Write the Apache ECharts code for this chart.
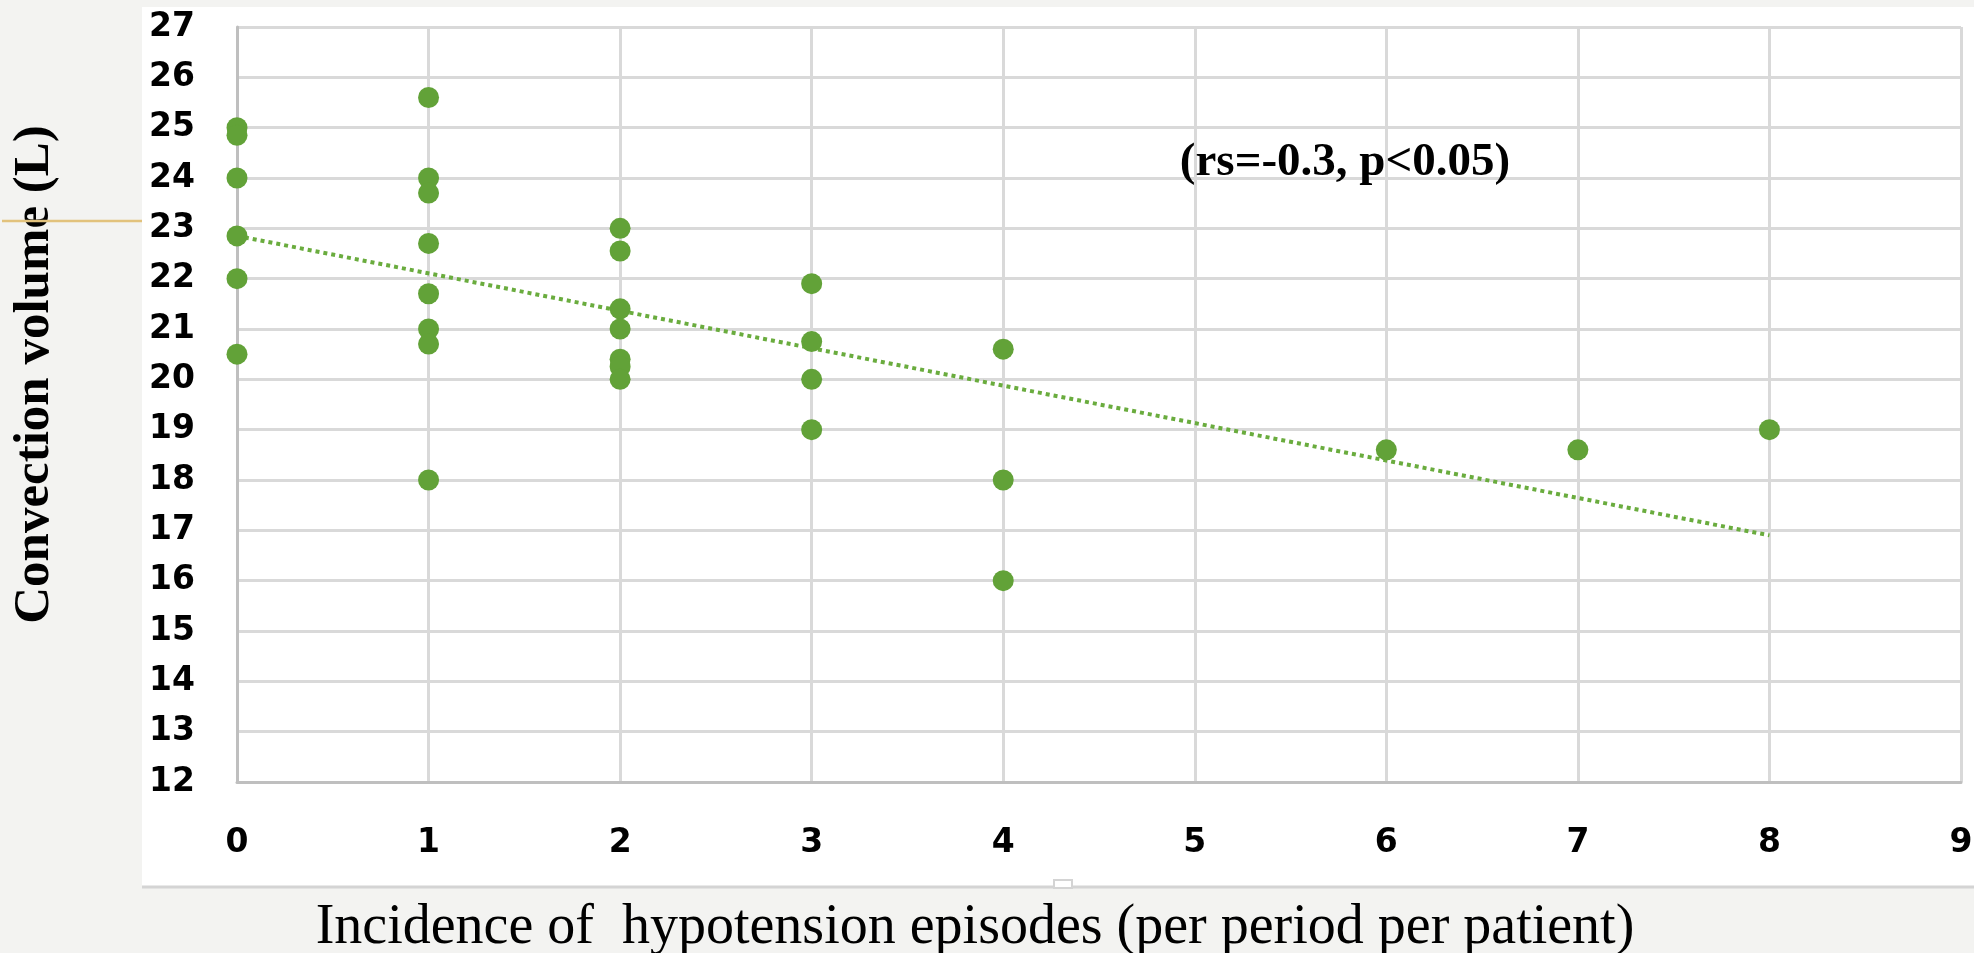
<!DOCTYPE html>
<html>
<head>
<meta charset="utf-8">
<script src="https://cdn.jsdelivr.net/npm/echarts@6/dist/echarts.min.js"></script>
<style>
  html, body { margin: 0; padding: 0; background: #f3f3f1; }
  #chart { width: 1974px; height: 953px; }
</style>
</head>
<body>
<div id="chart"></div>
<script>
// Data
const xValues = [0, 0, 0, 0, 0, 0,
                 1, 1, 1, 1, 1, 1, 1, 1,
                 2, 2, 2, 2, 2, 2, 2,
                 3, 3, 3, 3,
                 4, 4, 4,
                 6, 7, 8];
const yValues = [25.0, 24.85, 24.0, 22.85, 22.0, 20.5,
                 25.6, 24.0, 23.7, 22.7, 21.7, 21.0, 20.7, 18.0,
                 23.0, 22.55, 21.4, 21.0, 20.4, 20.25, 20.0,
                 21.9, 20.75, 20.0, 19.0,
                 20.6, 18.0, 16.0,
                 18.6, 18.6, 19.0];
const trendX = [0, 8];
const trendY = [22.85, 16.9];
const xTicks = [0, 1, 2, 3, 4, 5, 6, 7, 8, 9];
const yTicks = [12, 13, 14, 15, 16, 17, 18, 19, 20, 21, 22, 23, 24, 25, 26, 27];
const xTitle = 'Incidence of  hypotension episodes (per period per patient)';
const yTitle = 'Convection volume (L)';
const annotation = '(rs=-0.3, p<0.05)';

const points = xValues.map((x, i) => [x, yValues[i]]);
const trend = trendX.map((x, i) => [x, trendY[i]]);

const chart = echarts.init(document.getElementById('chart'), null, { renderer: 'canvas' });
const labelFont = '"DejaVu Sans", "Liberation Sans", sans-serif';
const serif = '"Liberation Serif", "DejaVu Serif", serif';

chart.setOption({
  backgroundColor: 'transparent',
  animation: false,
  grid: { left: 237, right: 13, top: 27, bottom: 171, containLabel: false, outerBoundsMode: 'none' },
  xAxis: {
    type: 'value',
    min: xTicks[0], max: xTicks[xTicks.length - 1], interval: 1,
    name: xTitle,
    nameLocation: 'middle',
    nameGap: 118,
    nameTextStyle: { fontFamily: serif, fontSize: 56, color: '#000', padding: [0, 248, 0, 0] },
    axisLine: { show: true, lineStyle: { color: '#bfbfbf', width: 3 } },
    axisTick: { show: false },
    axisLabel: { fontFamily: labelFont, fontWeight: 'bold', fontSize: 33, color: '#000', margin: 45 },
    splitLine: { show: true, lineStyle: { color: '#d9d9d9', width: 3 } }
  },
  yAxis: {
    type: 'value',
    min: yTicks[0], max: yTicks[yTicks.length - 1], interval: 1,
    name: yTitle,
    nameLocation: 'middle',
    nameGap: 177,
    nameTextStyle: { fontFamily: serif, fontWeight: 'bold', fontSize: 51, color: '#000', padding: [0, 0, 0, 60] },
    axisLine: { show: true, lineStyle: { color: '#bfbfbf', width: 3 } },
    axisTick: { show: false },
    axisLabel: { fontFamily: labelFont, fontWeight: 'bold', fontSize: 33, color: '#000', margin: 42 },
    splitLine: { show: true, lineStyle: { color: '#d9d9d9', width: 3 } }
  },
  graphic: [
    { type: 'rect', z: -100, silent: true,
      shape: { x: 142, y: 7, width: 1832, height: 880 },
      style: { fill: '#ffffff' } },
    { type: 'line', z: -90, silent: true,
      shape: { x1: 142, y1: 887, x2: 1974, y2: 887 },
      style: { stroke: '#d4d4d4', lineWidth: 3 } },
    { type: 'rect', z: -80, silent: true,
      shape: { x: 1054, y: 880, width: 18, height: 8 },
      style: { fill: '#ffffff', stroke: '#d4d4d4', lineWidth: 2 } },
    { type: 'line', z: 50, silent: true,
      shape: { x1: 2, y1: 221, x2: 142, y2: 221 },
      style: { stroke: '#e2c27c', lineWidth: 2.5 } },
    { type: 'text', z: 50, silent: true,
      x: 1345, y: 163,
      style: { text: annotation, font: 'bold 47px ' + serif, fill: '#000', align: 'center', verticalAlign: 'middle' } }
  ],
  series: [
    {
      type: 'line',
      data: trend,
      showSymbol: false,
      symbol: 'none',
      lineStyle: { color: '#6aac3e', width: 4, type: [4, 4], opacity: 1 },
      z: 3
    },
    {
      type: 'scatter',
      data: points,
      symbol: 'circle',
      symbolSize: 21,
      itemStyle: { color: '#62a238', opacity: 1 },
      z: 4
    }
  ]
});
</script>
</body>
</html>
